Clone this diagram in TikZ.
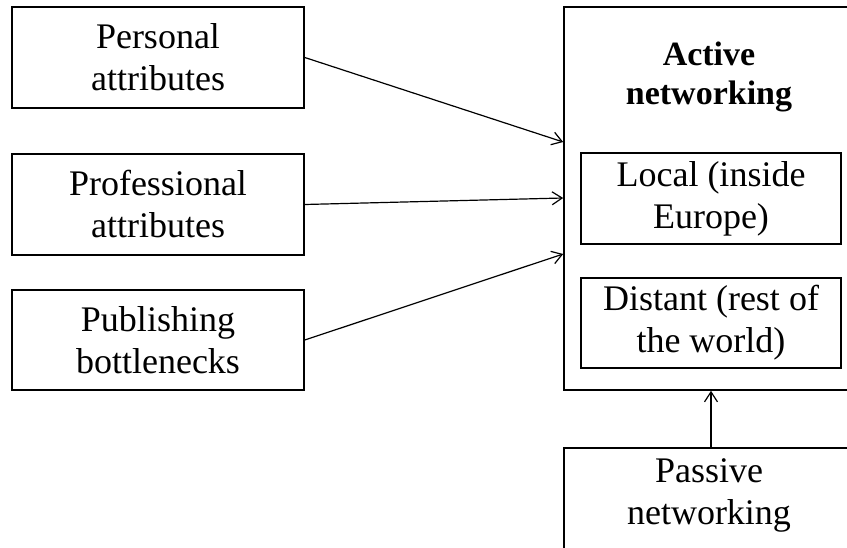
\documentclass[tikz,border=0pt]{standalone}
\usepackage{fontspec}
\setmainfont{Liberation Serif}
\usetikzlibrary{arrows.meta,calc}
\tikzset{
  box/.style={draw=black, line width=1.6pt, inner sep=0pt, align=center,
    font=\fontsize{36}{42}\selectfont},
  conn/.style={draw=black, line width=1.2pt, -{Straight Barb[length=10pt,width=13pt,line width=1.2pt]}},
}
\begin{document}
\begin{tikzpicture}[x=1pt,y=1pt]
\useasboundingbox (0,0) rectangle (847,547);
\clip (0,0) rectangle (847,547);
% left boxes
\node[box, minimum width=292pt, minimum height=101pt] (pers) at (158,489.5) {Personal\\attributes};
\node[box, minimum width=292pt, minimum height=101pt] (prof) at (158,342.5) {Professional\\attributes};
\node[box, minimum width=292pt, minimum height=100pt] (publ) at (158,207) {Publishing\\bottlenecks};
% active networking
\node[box, minimum width=336pt, minimum height=383pt] (active) at (732,348.5) {};
\node[align=center, inner sep=0pt, font=\bfseries\fontsize{34}{34}\selectfont] (title) at (709,470) {Active\\[5pt]networking};
\node[box, minimum width=260pt, minimum height=91pt] (local) at (711,348.5) {Local (inside\\Europe)};
\node[box, minimum width=260pt, minimum height=90pt] (dist) at (711,224) {Distant (rest of\\the world)};
% passive networking
\node[box, minimum width=336pt, minimum height=152pt] (passive) at (732,23) {};
\node[align=center, inner sep=0pt, font=\fontsize{36}{42}\selectfont] (ptext) at (709,52) {Passive\\networking};
\coordinate (pa) at (711,99);
% connectors
\draw[conn] (pers.east) -- ($(active.west)+(0,56.5)$);
\draw[conn] (prof.east) -- ($(active.west)+(0,0.5)$);
\draw[conn] (publ.east) -- ($(active.west)+(0,-55.5)$);
\draw[conn] (pa) -- (pa |- active.south);
\end{tikzpicture}
\end{document}
